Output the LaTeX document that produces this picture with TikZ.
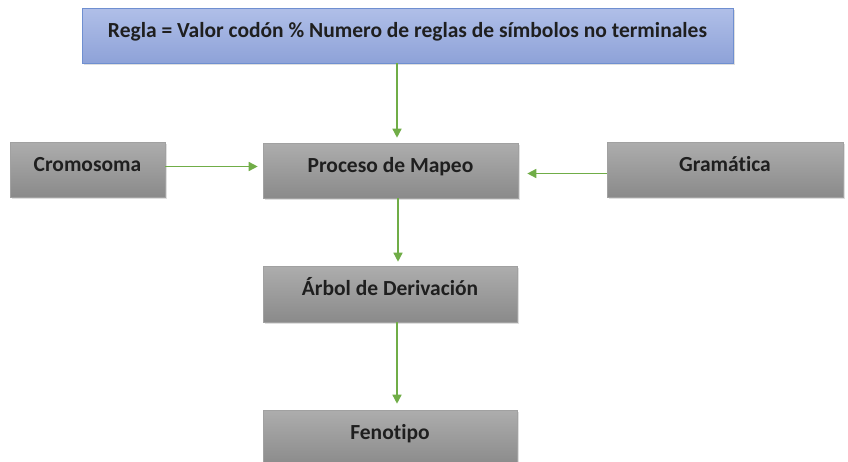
\documentclass[tikz,border=0pt]{standalone}
\usepackage{fontspec}
\setmainfont[Ligatures=NoCommon]{Carlito}
\usetikzlibrary{arrows.meta,shadows}
\definecolor{arrowgreen}{HTML}{70AD47}
\definecolor{greytop}{HTML}{ADADAD}
\definecolor{greybot}{HTML}{8A8A8A}
\definecolor{bluetop}{HTML}{B0BFE8}
\definecolor{bluebot}{HTML}{8EA2D8}
\definecolor{blueline}{HTML}{6F8FD0}
\tikzset{
  boxbase/.style={rectangle, inner sep=0pt, text height=16pt, text depth=13pt,
    font=\bfseries\fontsize{21.5}{24}\selectfont, text=black!88,
    drop shadow={shadow xshift=1.5pt, shadow yshift=-1.5pt, opacity=0.25}},
  greybox/.style={boxbase, draw=greybot!80!white, line width=0.6pt,
    top color=greytop, bottom color=greybot},
  bluebox/.style={boxbase, draw=blueline, line width=0.8pt,
    top color=bluetop, bottom color=bluebot},
  flow/.style={draw=arrowgreen, line width=1.5pt, -{Triangle[length=9pt,width=9pt]}}
}
\begin{document}
\begin{tikzpicture}[x=1pt,y=-1pt]
\useasboundingbox (0,0) rectangle (848,461);
\node[bluebox, minimum width=651pt, minimum height=55pt] (regla) at (407.5,35.5)
  {Regla = Valor codón \% Numero de reglas de símbolos no terminales};
\node[greybox, minimum width=155pt, minimum height=55pt] (cromo) at (87.5,169.5)
  {Cromosoma};
\node[greybox, minimum width=255pt, minimum height=55pt] (mapeo) at (390.5,170.5)
  {Proceso de Mapeo};
\node[greybox, minimum width=236pt, minimum height=55pt] (gram) at (725,169.5)
  {Gramática};
\node[greybox, minimum width=254pt, minimum height=56pt] (arbol) at (390,294)
  {Árbol de Derivación};
\node[greybox, minimum width=254pt, minimum height=56pt] (feno) at (390,438)
  {Fenotipo};
\draw[flow, shorten >=5pt] (regla.south -| 397,0) -- (mapeo.north -| 397,0);
\draw[flow, shorten >=5pt] ([yshift=3pt]cromo.east) -- ([yshift=3pt]cromo.east -| mapeo.west);
\draw[flow, shorten >=9pt] ([yshift=-4pt]gram.west) -- ([yshift=-4pt]gram.west -| mapeo.east);
\draw[flow, shorten >=4pt] (mapeo.south -| 398,0) -- (arbol.north -| 398,0);
\draw[flow, shorten >=6pt] (arbol.south -| 397,0) -- (feno.north -| 397,0);
\end{tikzpicture}
\end{document}
